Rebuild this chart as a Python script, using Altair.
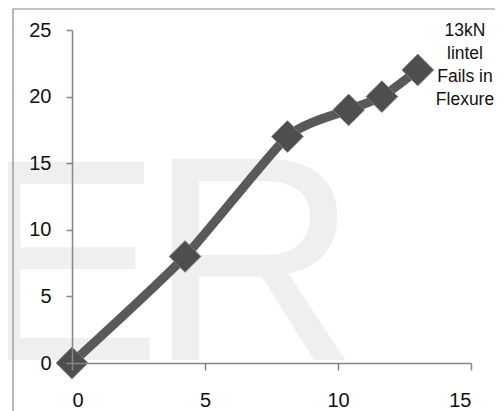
import altair as alt
import pandas as pd

# data
x_vals = [0, 4.25, 8.1, 10.4, 11.65, 13.0]
y_vals = [0, 8, 17, 19, 20, 22]
x_ticks = [0, 5, 10, 15]
y_ticks = [0, 5, 10, 15, 20, 25]
note_lines = ["13kN", "lintel", "Fails in", "Flexure"]
watermark_letters = ["E", "R"]

df = pd.DataFrame({"x": x_vals, "y": y_vals})
FONT = "Liberation Sans"

xs = alt.Scale(domain=[0, 15], nice=False, zero=False)
ys = alt.Scale(domain=[0, 25], nice=False, zero=False)

wm_e = alt.Chart(pd.DataFrame({"t": watermark_letters[:1]})).mark_text(
    font=FONT, fontSize=288, color="#efefef", align="left", baseline="alphabetic"
).encode(x=alt.value(-102), y=alt.value(330), text="t:N")

wm_r = alt.Chart(pd.DataFrame({"t": watermark_letters[1:]})).mark_text(
    font=FONT, fontSize=292, color="#efefef", align="left", baseline="alphabetic"
).encode(x=alt.value(76), y=alt.value(330), text="t:N")

frame = alt.Chart(pd.DataFrame({"a": [0]})).mark_rect(
    fill=None, stroke="#8a8a8a", strokeWidth=1.2
).encode(x=alt.value(-59), x2=alt.value(900), y=alt.value(-21), y2=alt.value(900))

axis_common = dict(title=None, grid=False, domainColor="#868686", tickColor="#868686",
                   labelFontSize=20, labelFont=FONT, labelColor="#111",
                   domainWidth=1.5, tickWidth=1.5, zindex=1)

line = alt.Chart(df).mark_line(
    color="#595959", strokeWidth=9, interpolate="cardinal", tension=0.4
).encode(
    x=alt.X("x:Q", scale=xs, axis=alt.Axis(values=x_ticks, tickSize=7, labelPadding=20, **axis_common)),
    y=alt.Y("y:Q", scale=ys, axis=alt.Axis(values=y_ticks, tickSize=6, labelPadding=15, **axis_common)),
)

pts = alt.Chart(df).mark_point(
    shape="diamond", size=1000, filled=True, fill="#4e4e4e", stroke="#7a7a7a",
    strokeWidth=1, opacity=1
).encode(x=alt.X("x:Q", scale=xs), y=alt.Y("y:Q", scale=ys))

note = alt.Chart(pd.DataFrame({"t": [note_lines]})).mark_text(
    font=FONT, fontSize=17.5, color="#111", align="center", baseline="middle", lineHeight=23
).encode(x=alt.value(393), y=alt.value(1), text="t")

chart = alt.layer(wm_e, wm_r, frame, line, pts, note).properties(
    width=399, height=333,
    autosize=alt.AutoSizeParams(type="none"),
    padding={"left": 64, "top": 22, "right": 24, "bottom": 48},
).configure_view(stroke=None)

chart.save("out.html", embed_options={"renderer": "svg", "actions": False})
